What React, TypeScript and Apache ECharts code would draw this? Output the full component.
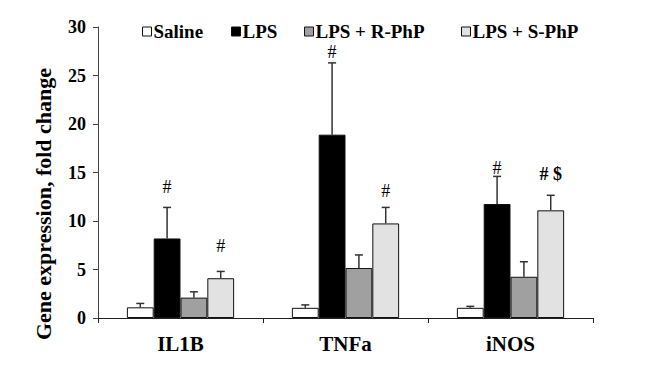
import React, { useEffect, useRef } from "react";
import * as echarts from "echarts";

const categories = ["IL1B", "TNFa", "iNOS"];
const seriesNames = ["Saline", "LPS", "LPS + R-PhP", "LPS + S-PhP"];
const salineVals = [1.1, 1.05, 1.05];
const lpsVals = [8.2, 18.9, 11.75];
const rphpVals = [2.1, 5.15, 4.25];
const sphpVals = [4.1, 9.75, 11.1];
const salineErr = [0.4, 0.3, 0.15];
const lpsErr = [3.2, 7.4, 2.85];
const rphpErr = [0.6, 1.35, 1.55];
const sphpErr = [0.7, 1.65, 1.55];
// annotations: [category index, series index, text, label height (value)]
const annotations: [number, number, string, number][] = [
  [0, 1, "#", 13.5],
  [0, 3, "#", 7.4],
  [1, 1, "#", 27.4],
  [1, 3, "#", 13.1],
  [2, 1, "#", 15.5],
  [2, 3, "# $", 14.8],
];
const yTicks = [0, 5, 10, 15, 20, 25, 30];

const colors = ["#ffffff", "#000000", "#a0a0a0", "#e2e2e2"];
const legendLefts = [142, 231, 304, 461];
const FONT = "'Liberation Serif', 'Times New Roman', serif";
const CAT_GAP = 0.35;

export default function App() {
  const ref = useRef<HTMLDivElement>(null);
  useEffect(() => {
    if (!ref.current) return;
    const chart = echarts.init(ref.current, undefined, { renderer: "svg" });
    const vals = [salineVals, lpsVals, rphpVals, sphpVals];
    const errs = [salineErr, lpsErr, rphpErr, sphpErr];
    const nSeries = vals.length;

    const barSeries = seriesNames.map((name, i) => ({
      name,
      type: "bar",
      data: vals[i],
      barGap: "0%",
      barCategoryGap: CAT_GAP * 100 + "%",
      itemStyle: { color: colors[i], borderColor: "#111", borderWidth: 1 },
      z: 2,
    }));

    const errData: number[][] = [];
    vals.forEach((arr, s) =>
      arr.forEach((v, c) => errData.push([c, v, v + errs[s][c], s]))
    );

    const errSeries = {
      type: "custom",
      name: "err",
      data: errData,
      z: 3,
      renderItem: (params: any, api: any) => {
        const c = api.value(0);
        const s = api.value(3);
        const catW = api.size([1, 0])[0];
        const bw = (catW * (1 - CAT_GAP)) / nSeries;
        const base = api.coord([c, api.value(1)]);
        const top = api.coord([c, api.value(2)]);
        const x = base[0] + (s - (nSeries - 1) / 2) * bw;
        const style = { stroke: "#333", lineWidth: 1.5 };
        return {
          type: "group",
          children: [
            { type: "line", shape: { x1: x, y1: base[1], x2: x, y2: top[1] }, style },
            { type: "line", shape: { x1: x - 4, y1: top[1], x2: x + 4, y2: top[1] }, style },
          ],
        };
      },
    };

    const annSeries = {
      type: "custom",
      name: "ann",
      data: annotations.map((a) => [a[0], a[3], a[1], a[2]]),
      z: 4,
      renderItem: (params: any, api: any) => {
        const a = annotations[params.dataIndex];
        const c = a[0];
        const s = a[1];
        const catW = api.size([1, 0])[0];
        const bw = (catW * (1 - CAT_GAP)) / nSeries;
        const p = api.coord([c, a[3]]);
        const x = p[0] + (s - (nSeries - 1) / 2) * bw;
        return {
          type: "text",
          x,
          y: p[1],
          style: {
            text: a[2],
            fontFamily: FONT,
            fontSize: 18,
            fontWeight: a[2].length > 1 ? "bold" : "normal",
            fill: "#000",
            align: "center",
            verticalAlign: "middle",
          },
        };
      },
    };

    const legends = seriesNames.map((name, i) => ({
      data: [name],
      left: legendLefts[i],
      top: 22,
      padding: 0,
      itemWidth: 9,
      itemHeight: 9,
      icon: "rect",
      selectedMode: false,
      textStyle: {
        fontFamily: FONT,
        fontSize: 19,
        fontWeight: "bold",
        color: "#000",
        padding: [0, 0, 0, -3],
      },
      itemStyle: { borderColor: "#111", borderWidth: 1 },
    }));

    chart.setOption({
      animation: false,
      backgroundColor: "#fff",
      grid: { left: 98, right: 61, top: 27, bottom: 56 },
      legend: legends,
      xAxis: {
        type: "category",
        data: categories,
        axisLine: { lineStyle: { color: "#222", width: 1 } },
        axisTick: { show: true, length: 5, lineStyle: { color: "#222" } },
        axisLabel: {
          fontFamily: FONT,
          fontSize: 21,
          fontWeight: "bold",
          color: "#000",
          margin: 15,
        },
      },
      yAxis: {
        type: "value",
        min: yTicks[0],
        max: yTicks[yTicks.length - 1],
        interval: 5,
        splitLine: { show: false },
        axisLine: { show: true, lineStyle: { color: "#444", width: 1 } },
        axisTick: { show: true, length: 5, lineStyle: { color: "#444" } },
        axisLabel: {
          fontFamily: FONT,
          fontSize: 18,
          fontWeight: "bold",
          color: "#000",
          margin: 12,
        },
      },
      graphic: [
        {
          type: "text",
          x: 43,
          y: 204,
          rotation: Math.PI / 2,
          style: {
            text: "Gene expression, fold change",
            fontFamily: FONT,
            fontSize: 22,
            fontWeight: "bold",
            fill: "#000",
            align: "center",
            verticalAlign: "middle",
          },
        },
      ],
      series: [...barSeries, errSeries, annSeries],
    });
    return () => chart.dispose();
  }, []);
  return <div ref={ref} style={{ width: 654, height: 374, margin: -8 }} />;
}
